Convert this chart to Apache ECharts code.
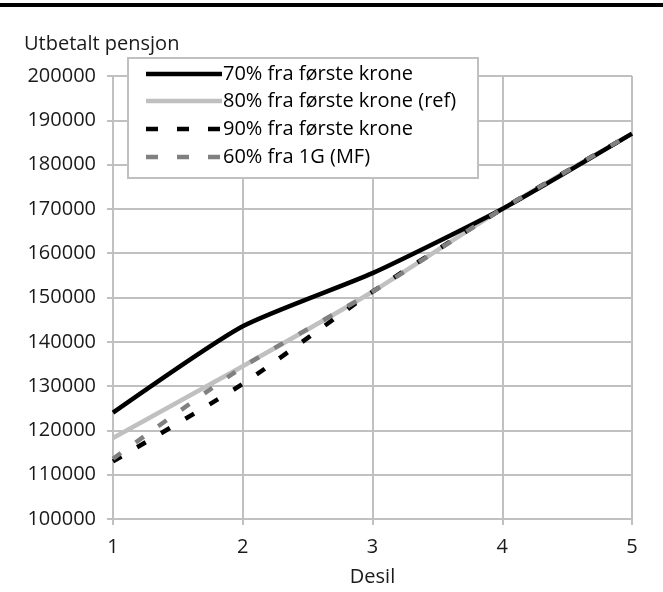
<!DOCTYPE html>
<html>
<head>
<meta charset="utf-8">
<script src="https://cdn.jsdelivr.net/npm/echarts@6/dist/echarts.min.js"></script>
<style>
  html, body { margin: 0; padding: 0; background: #fff; }
  #chart { width: 663px; height: 592px; }
</style>
</head>
<body>
<div id="chart"></div>
<script>
// Deciles on the x axis
const desiler = ['1', '2', '3', '4', '5'];

// Paid-out pension per decile for each model
const s70 = [124000, 143500, 155500, 170000, 187000];
const s80ref = [118300, 134500, 151300, 170000, 187000];
const s90 = [113000, 130500, 151300, 170000, 187000];
const s60mf = [113600, 134300, 151300, 170000, 187000];

const seriesNames = [
  '70% fra første krone',
  '80% fra første krone (ref)',
  '90% fra første krone',
  '60% fra 1G (MF)'
];

const FONT = '"Open Sans", sans-serif';
const FS = 20;
const GRID = '#c0c0c0';
const TEXT = '#1a1a1a';

// Line looks shared by the plotted series and the legend keys
const styles = [
  { color: '#000000', type: 'solid', z: 4 },
  { color: '#c0c0c0', type: 'solid', z: 2 },
  { color: '#000000', type: [10, 18], z: 3 },
  { color: '#808080', type: [10, 18], z: 5 }
];
const LW = 4.5;

const chart = echarts.init(document.getElementById('chart'), null, { renderer: 'canvas' });

function lineSeries(i, data) {
  const st = styles[i];
  return {
    name: seriesNames[i],
    type: 'line',
    data: data,
    symbol: 'none',
    smooth: 0.2,
    z: st.z,
    lineStyle: { color: st.color, width: LW, type: st.type, cap: 'butt' },
    itemStyle: { color: st.color },
    emphasis: { disabled: true }
  };
}

// Boxed legend drawn as graphic elements so the keys are plain line samples
const legendBox = { x: 128, y: 58, w: 350, h: 120 };
const legendRows = [74, 101, 129, 157];
const legendGraphics = [{
  type: 'rect',
  z: 100,
  shape: { x: legendBox.x, y: legendBox.y, width: legendBox.w, height: legendBox.h },
  style: { fill: '#fff', stroke: GRID, lineWidth: 2 }
}];
seriesNames.forEach(function (name, i) {
  const st = styles[i];
  legendGraphics.push({
    type: 'line',
    z: 101,
    shape: { x1: 146, y1: legendRows[i], x2: 222, y2: legendRows[i] },
    style: {
      stroke: st.color,
      lineWidth: LW,
      lineDash: st.type === 'solid' ? null : [12, 19],
      lineCap: 'butt'
    }
  });
  legendGraphics.push({
    type: 'text',
    z: 101,
    x: 223,
    y: legendRows[i],
    style: {
      text: name,
      fontFamily: FONT,
      fontSize: FS,
      fill: '#000',
      verticalAlign: 'middle',
      align: 'left'
    }
  });
});

chart.setOption({
  animation: false,
  backgroundColor: '#fff',
  textStyle: { fontFamily: FONT },
  title: {
    text: 'Utbetalt pensjon',
    left: 19,
    top: 29,
    textStyle: { fontFamily: FONT, fontSize: FS, fontWeight: 'normal', color: TEXT }
  },
  graphic: [{
    type: 'rect',
    shape: { x: 0, y: 3, width: 663, height: 4 },
    style: { fill: '#000' }
  }].concat(legendGraphics),
  grid: { left: 113, right: 31, top: 76, bottom: 71, containLabel: false },
  xAxis: {
    type: 'category',
    data: desiler,
    boundaryGap: false,
    name: 'Desil',
    nameLocation: 'middle',
    nameGap: 48,
    nameTextStyle: { fontFamily: FONT, fontSize: FS, color: TEXT },
    axisLine: { lineStyle: { color: GRID, width: 2 } },
    axisTick: { show: true, length: 6, lineStyle: { color: GRID, width: 2 } },
    axisLabel: { fontFamily: FONT, fontSize: FS, color: TEXT, margin: 18 },
    splitLine: { show: true, lineStyle: { color: GRID, width: 2 } }
  },
  yAxis: {
    type: 'value',
    min: 100000,
    max: 200000,
    interval: 10000,
    axisLine: { show: true, lineStyle: { color: GRID, width: 2 } },
    axisTick: { show: true, length: 6, lineStyle: { color: GRID, width: 2 } },
    axisLabel: {
      fontFamily: FONT, fontSize: FS, color: TEXT, margin: 17,
      formatter: function (v) { return String(v); }
    },
    splitLine: { show: true, lineStyle: { color: GRID, width: 2 } }
  },
  series: [
    lineSeries(0, s70),
    lineSeries(1, s80ref),
    lineSeries(2, s90),
    lineSeries(3, s60mf)
  ]
});
</script>
</body>
</html>
